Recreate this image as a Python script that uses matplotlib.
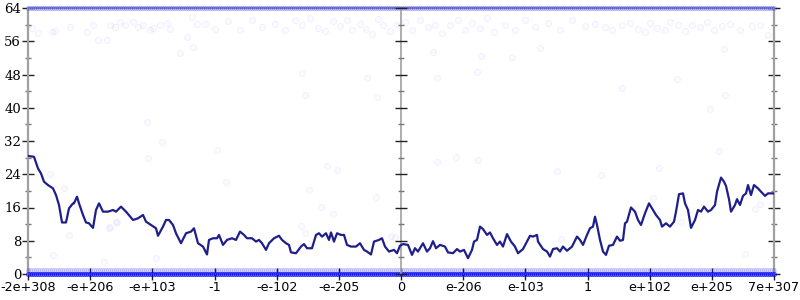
import numpy as np
import matplotlib
matplotlib.use("Agg")
import matplotlib.pyplot as plt

# ---- data ----
tick_labels = ["-2e+308", "-e+206", "-e+103", "-1", "-e-102", "-e-205", "0",
               "e-206", "e-103", "1", "e+102", "e+205", "7e+307"]
x_max = 746          # sample index range (0 .. 746)
center_x = 373       # position of "0"

line_x = [0, 6, 10, 13, 16, 20, 25, 28, 31, 34, 38, 41, 45, 46, 49, 51, 55, 58, 61, 65,
          68, 71, 75, 80, 85, 88, 93, 98, 105, 110, 115, 118, 123, 128, 130, 135, 138, 141,
          145, 148, 153, 158, 163, 166, 170, 175, 179, 181, 185, 189, 191, 195, 199, 204,
          208, 212, 216, 219, 224, 228, 231, 234, 238, 241, 246, 251, 254, 258, 261, 263,
          268, 273, 276, 279, 284, 288, 291, 294, 298, 301, 303, 306, 309, 313, 316, 319,
          323, 328, 332, 336, 339, 343, 346, 351, 354, 357, 361, 366, 369, 372, 375, 380,
          384, 387, 390, 395, 399, 402, 405, 408, 412, 417, 420, 425, 429, 432, 436, 440,
          444, 446, 449, 452, 455, 459, 462, 465, 469, 472, 475, 479, 483, 487, 490, 495,
          499, 502, 505, 509, 510, 515, 519, 522, 525, 529, 532, 535, 539, 544, 549, 552,
          555, 559, 562, 565, 567, 569, 572, 575, 578, 581, 585, 589, 592, 595, 597, 599,
          603, 607, 610, 613, 617, 621, 625, 628, 632, 634, 638, 642, 646, 648, 651, 655,
          657, 660, 663, 667, 670, 673, 676, 680, 683, 687, 689, 693, 696, 698, 701, 703,
          707, 709, 712, 715, 718, 720, 723, 726, 730, 733, 737, 740, 745]
line_y = [28.4, 28.2, 25.4, 24.2, 22.2, 21.4, 20.6, 19.0, 16.6, 12.4, 12.4, 15.8, 17.0, 17.0,
          18.6, 17.0, 14.2, 12.4, 12.2, 11.1, 15.4, 17.0, 15.0, 15.0, 15.4, 15.0, 16.2, 15.0,
          13.0, 13.4, 14.2, 12.6, 11.8, 11.0, 9.2, 11.4, 13.0, 13.0, 11.8, 9.8, 7.4, 9.8, 10.2,
          11.0, 7.4, 6.6, 4.7, 8.2, 8.6, 8.6, 9.4, 7.0, 8.2, 8.6, 8.2, 10.2, 9.4, 8.6, 8.6, 7.8,
          8.2, 7.4, 5.8, 7.4, 8.6, 9.2, 8.2, 7.4, 7.0, 5.2, 5.0, 6.6, 7.2, 6.2, 6.2, 9.4, 9.8,
          9.0, 9.8, 8.2, 10.0, 7.8, 9.8, 9.4, 9.4, 7.0, 6.6, 6.6, 7.4, 5.8, 5.4, 4.7, 7.8, 8.2,
          8.6, 6.6, 5.4, 5.8, 5.0, 6.8, 7.2, 7.0, 4.6, 6.2, 5.4, 7.4, 5.4, 6.2, 7.9, 6.2, 7.0,
          6.6, 5.2, 5.0, 6.0, 5.4, 5.8, 3.8, 5.8, 7.8, 8.2, 11.4, 10.8, 9.4, 10.0, 8.6, 7.0,
          7.8, 6.6, 9.6, 7.8, 6.6, 5.0, 6.0, 7.8, 9.2, 9.0, 9.4, 7.8, 6.0, 5.4, 4.2, 6.0, 6.2,
          5.4, 6.6, 5.6, 6.6, 9.0, 8.2, 7.0, 9.4, 11.0, 11.4, 13.8, 11.8, 8.2, 5.4, 4.6, 6.8,
          7.0, 9.0, 8.0, 8.2, 12.2, 12.6, 16.0, 15.0, 13.0, 11.8, 14.6, 17.0, 15.4, 14.2, 13.0,
          11.4, 12.2, 11.4, 12.6, 15.0, 19.2, 19.4, 17.0, 15.4, 11.1, 13.0, 15.4, 15.0, 16.2,
          15.0, 15.4, 16.6, 19.8, 23.2, 22.2, 21.2, 18.0, 15.0, 16.6, 18.0, 16.6, 18.8, 19.4,
          21.4, 19.0, 21.4, 20.6, 19.8, 18.8, 19.4, 19.4]

# faint scattered samples (upper cloud)
cloud_x = [4, 10, 24, 27, 42, 59, 65, 70, 79, 82, 87, 92, 97, 105, 110, 115, 122, 125, 132, 139,
           142, 152, 159, 164, 165, 169, 177, 187, 200, 212, 224, 234, 247, 257, 267, 274, 282,
           290, 297, 305, 312, 319, 324, 332, 338, 344, 350, 355, 362, 369, 377, 384, 392, 400,
           407, 414, 422, 430, 437, 444, 452, 459, 466, 477, 487, 497, 507, 520, 532, 544, 557,
           567, 577, 584, 594, 602, 610, 617, 622, 629, 637, 642, 650, 657, 664, 672, 679, 686,
           694, 702, 712, 724, 732, 740]
cloud_y = [59.2, 58.0, 58.2, 58.4, 59.4, 58.2, 59.9, 56.3, 56.3, 59.9, 59.5, 60.6, 60.0, 60.6,
           59.5, 59.9, 58.8, 59.2, 59.8, 60.4, 59.0, 53.2, 57.0, 61.8, 54.6, 60.2, 60.2, 59.0,
           60.8, 58.6, 61.0, 59.4, 60.2, 58.8, 61.2, 60.0, 61.5, 59.2, 58.5, 60.8, 59.6, 61.0,
           58.8, 60.2, 59.0, 57.8, 61.4, 60.0, 58.4, 59.8, 60.6, 58.6, 61.2, 59.4, 60.0, 58.0,
           59.8, 61.0, 58.6, 60.4, 59.2, 61.6, 58.2, 60.0, 58.8, 61.0, 59.4, 60.4, 58.6, 61.2,
           59.6, 60.2, 59.5, 58.8, 60.0, 60.4, 59.0, 58.2, 60.4, 59.2, 58.6, 60.6, 59.8, 58.4,
           60.0, 59.4, 60.6, 58.8, 59.6, 60.2, 58.8, 59.6, 60.0, 57.5]

# sparse samples in the middle of the plot
sparse_x = [119, 134, 120, 22, 36, 41, 82, 89, 25, 76, 81, 88, 128, 189, 198, 299, 309, 281,
            293, 305, 273, 277, 348, 363, 367, 274, 277, 409, 449, 409, 428, 450, 349, 405,
            453, 484, 512, 529, 533, 484, 691, 631, 573, 625, 653, 732, 727, 717, 682, 594,
            649, 697, 696, 339]
sparse_y = [36.6, 31.8, 27.9, 24.1, 20.7, 9.4, 11.3, 12.5, 4.6, 2.9, 11.1, 12.5, 3.8, 29.8,
            22.1, 26.0, 25.0, 20.2, 16.1, 14.4, 11.5, 9.9, 18.5, 9.1, 8.9, 48.4, 43.1, 47.2,
            48.6, 26.9, 28.2, 27.4, 42.6, 53.4, 52.5, 52.2, 54.4, 24.8, 8.4, 7.0, 29.6, 25.5,
            23.8, 18.3, 12.5, 16.8, 15.6, 4.8, 39.7, 44.8, 46.9, 43.1, 54.1, 47.2]

band_values = [64, 1, 0]
band_alpha = [0.17, 0.12, 0.55]

y_ticks = list(range(0, 65, 8))
y_minor = list(range(4, 64, 8))

# ---- figure ----
fig = plt.figure(figsize=(8, 3), dpi=100)
ax = fig.add_axes([28/800, 1-274/300, 746/800, 266/300])

ax.set_xlim(0, x_max)
ax.set_ylim(0, 64)

band_x = np.arange(0, x_max + 1, 2)
for v, a in zip(band_values, band_alpha):
    ax.scatter(band_x, np.full(band_x.shape, v, dtype=float), s=10, marker="o",
               facecolor=(0, 0, 1, a * 0.6), edgecolor=(0, 0, 1, a), linewidth=0.5,
               clip_on=False, zorder=3)
ax.scatter(cloud_x, cloud_y, s=20, marker="o", facecolor=(0, 0, 1, 0.02),
           edgecolor=(0, 0, 1, 0.06), linewidth=0.6, zorder=2)
ax.scatter(sparse_x, sparse_y, s=20, marker="o", facecolor=(0, 0, 1, 0.025),
           edgecolor=(0, 0, 1, 0.05), linewidth=0.6, zorder=2)

ax.plot(line_x, line_y, color="#1f1f8c", linewidth=1.6, zorder=4, solid_joinstyle="round")

# center axis
ax.axvline(center_x, color="#a0a0a0", linewidth=1.2, zorder=3)
ax.plot([center_x] * len(y_ticks), y_ticks, ls="none", marker="_",
        ms=8, mew=1.0, color="#222222", zorder=5, clip_on=False)
ax.plot([center_x] * len(y_minor), y_minor, ls="none", marker="_",
        ms=4, mew=1.0, color="#777777", zorder=5)

for s in ax.spines.values():
    s.set_color("#a0a0a0")
    s.set_linewidth(1.6)

ax.set_yticks(y_ticks)
ax.set_yticklabels([str(v) for v in y_ticks], family="DejaVu Serif", fontsize=9.5)
ax.set_yticks(y_minor, minor=True)
ax.set_xticks(np.linspace(0, x_max, len(tick_labels)))
ax.set_xticklabels(tick_labels, family="DejaVu Sans", fontsize=9.2)

ax.tick_params(axis="y", which="major", direction="inout", length=8, width=1.0,
               color="#222222", left=True, right=True, pad=1, labelsize=9.5)
ax.tick_params(axis="y", which="minor", direction="inout", length=4, width=1.0,
               color="#777777", left=True, right=True)
ax.tick_params(axis="x", which="major", direction="inout", length=8, width=1.0,
               color="#222222", pad=1)

fig.savefig("out.png", dpi=100)
